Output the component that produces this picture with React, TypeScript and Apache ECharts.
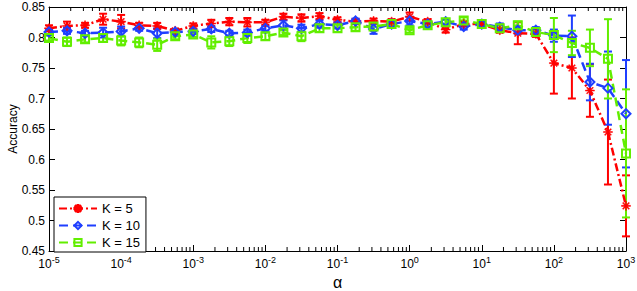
import React, { useEffect, useRef } from 'react';
import * as echarts from 'echarts';

const alphas = [
  1e-5, 1.778e-5, 3.162e-5, 5.623e-5,
  1e-4, 1.778e-4, 3.162e-4, 5.623e-4,
  1e-3, 1.778e-3, 3.162e-3, 5.623e-3,
  1e-2, 1.778e-2, 3.162e-2, 5.623e-2,
  0.1, 0.1778, 0.3162, 0.5623,
  1, 1.778, 3.162, 5.623,
  10, 17.78, 31.62, 56.23,
  100, 177.8, 316.2, 562.3,
  1000,
];

const k5Mean = [0.815, 0.819, 0.820, 0.830, 0.826, 0.820, 0.819, 0.811, 0.819, 0.823, 0.826, 0.825, 0.825, 0.834, 0.832, 0.835, 0.829, 0.826, 0.827, 0.826, 0.834, 0.826, 0.813, 0.822, 0.822, 0.812, 0.807, 0.806, 0.758, 0.750, 0.713, 0.645, 0.524];
const k5Err = [0.005, 0.007, 0.004, 0.009, 0.011, 0.004, 0.005, 0.003, 0.004, 0.006, 0.006, 0.007, 0.004, 0.005, 0.006, 0.005, 0.004, 0.004, 0.004, 0.004, 0.007, 0.004, 0.005, 0.004, 0.004, 0.004, 0.018, 0.005, 0.050, 0.050, 0.043, 0.086, 0.050];

const k10Mean = [0.809, 0.811, 0.807, 0.808, 0.810, 0.815, 0.807, 0.809, 0.810, 0.814, 0.807, 0.808, 0.815, 0.820, 0.815, 0.822, 0.820, 0.827, 0.814, 0.822, 0.827, 0.822, 0.826, 0.818, 0.822, 0.817, 0.812, 0.812, 0.803, 0.802, 0.727, 0.717, 0.675];
const k10Err = [0.004, 0.005, 0.004, 0.008, 0.008, 0.004, 0.008, 0.004, 0.004, 0.005, 0.004, 0.005, 0.004, 0.008, 0.006, 0.006, 0.005, 0.004, 0.008, 0.004, 0.007, 0.005, 0.004, 0.005, 0.004, 0.006, 0.006, 0.005, 0.010, 0.034, 0.030, 0.060, 0.088];

const k15Mean = [0.799, 0.793, 0.797, 0.799, 0.795, 0.792, 0.788, 0.802, 0.805, 0.792, 0.794, 0.799, 0.802, 0.808, 0.802, 0.815, 0.815, 0.817, 0.818, 0.822, 0.812, 0.820, 0.825, 0.828, 0.822, 0.815, 0.820, 0.809, 0.804, 0.791, 0.783, 0.765, 0.610];
const k15Err = [0.004, 0.007, 0.005, 0.006, 0.008, 0.008, 0.010, 0.005, 0.004, 0.010, 0.008, 0.008, 0.006, 0.004, 0.008, 0.006, 0.006, 0.006, 0.006, 0.004, 0.004, 0.004, 0.004, 0.005, 0.004, 0.005, 0.006, 0.005, 0.028, 0.020, 0.030, 0.065, 0.105];

const seriesNames = ['K = 5', 'K = 10', 'K = 15'];
const X_MIN = 1e-5;
const X_MAX = 1e3;
const Y_MIN = 0.45;
const Y_MAX = 0.85;
const Y_STEP = 0.05;

const RED = '#ff0000';
const BLUE = '#1f3fff';
const GREEN = '#62ee00';
const FONT = 'Liberation Sans, Arial, Helvetica, sans-serif';

const minorTickValues: number[] = [];
for (let d = -5; d < 3; d++) {
  for (let m = 2; m <= 9; m++) minorTickValues.push(m * Math.pow(10, d));
}

const STAR_PATH =
  'path://M-0.7,-6 L0.7,-6 L0.7,6 L-0.7,6 Z M-6,-0.7 L6,-0.7 L6,0.7 L-6,0.7 Z M-4.7,-3.7 L-3.7,-4.7 L4.7,3.7 L3.7,4.7 Z M3.7,-4.7 L4.7,-3.7 L-3.7,4.7 L-4.7,3.7 Z';

function errorSeries(name: string, means: number[], errs: number[], color: string) {
  return {
    type: 'custom',
    name,
    silent: true,
    coordinateSystem: 'cartesian2d',
    encode: { x: 0, y: [1, 2] },
    data: alphas.map((a, i) => [a, means[i] - errs[i], means[i] + errs[i]]),
    renderItem: (params: any, api: any) => {
      const x = api.value(0);
      const lo = api.coord([x, api.value(1)]);
      const hi = api.coord([x, api.value(2)]);
      const w = 4;
      const style = { stroke: color, lineWidth: 2, fill: 'none' };
      return {
        type: 'group',
        children: [
          { type: 'line', shape: { x1: lo[0], y1: lo[1], x2: hi[0], y2: hi[1] }, style },
          { type: 'line', shape: { x1: lo[0] - w, y1: lo[1], x2: lo[0] + w, y2: lo[1] }, style },
          { type: 'line', shape: { x1: hi[0] - w, y1: hi[1], x2: hi[0] + w, y2: hi[1] }, style },
        ],
      };
    },
  };
}

function lineSeries(name: string, means: number[], color: string, dash: number[], symbol: string, size: number, fill: string, bw: number) {
  return {
    type: 'line',
    name,
    data: alphas.map((a, i) => [a, means[i]]),
    symbol,
    symbolSize: size,
    showAllSymbol: true,
    lineStyle: { color, width: 2.5, type: dash },
    itemStyle: { color: fill, borderColor: color, borderWidth: bw },
    emphasis: { disabled: true },
  };
}

export default function App() {
  const ref = useRef<HTMLDivElement>(null);
  useEffect(() => {
    const chart = echarts.init(ref.current!, null, { renderer: 'svg' });
    const xLabel = (v: number) => {
      const e = Math.round(Math.log10(v));
      return '{b|10}{s|' + String(e) + '}';
    };
    const option: any = {
      animation: false,
      backgroundColor: '#ffffff',
      textStyle: { fontFamily: FONT },
      grid: { left: 49, right: 11, top: 7, bottom: 40, containLabel: false, outerBoundsMode: 'none' },
      legend: {
        data: seriesNames,
        orient: 'vertical',
        left: 54,
        top: 197,
        itemWidth: 38,
        itemHeight: 9,
        itemGap: 2,
        padding: [4, 6, 2, 4],
        backgroundColor: '#ffffff',
        borderColor: '#000000',
        borderWidth: 1,
        textStyle: { fontSize: 13, color: '#000', fontFamily: FONT, lineHeight: 15 },
      },
      xAxis: [
        {
          type: 'log',
          logBase: 10,
          min: X_MIN,
          max: X_MAX,
          name: 'α',
          nameLocation: 'middle',
          nameGap: 20,
          nameTextStyle: { fontSize: 16, color: '#000', fontFamily: FONT },
          axisLine: { lineStyle: { color: '#000', width: 1 } },
          axisTick: { inside: true, length: 6, lineStyle: { color: '#000' } },
          splitLine: { show: false },
          axisLabel: {
            color: '#000',
            margin: 4,
            formatter: xLabel,
            rich: {
              b: { fontSize: 12, color: '#000', fontFamily: FONT, padding: [3, 0, 0, 0] },
              s: { fontSize: 9, color: '#000', fontFamily: FONT, verticalAlign: 'top' },
            },
          },
        },
        {
          type: 'log',
          logBase: 10,
          min: X_MIN,
          max: X_MAX,
          position: 'top',
          axisLine: { lineStyle: { color: '#000', width: 1 } },
          axisTick: { inside: true, length: 6, lineStyle: { color: '#000' } },
          axisLabel: { show: false },
          splitLine: { show: false },
        },
      ],
      yAxis: [
        {
          type: 'value',
          min: Y_MIN,
          max: Y_MAX,
          interval: Y_STEP,
          name: 'Accuracy',
          nameLocation: 'middle',
          nameGap: 30,
          nameMoveOverlap: false,
          nameTextStyle: { fontSize: 12, color: '#000', fontFamily: FONT },
          axisLine: { show: true, lineStyle: { color: '#000', width: 1 } },
          axisTick: { show: true, inside: true, length: 6, lineStyle: { color: '#000' } },
          splitLine: { show: false },
          axisLabel: {
            color: '#000',
            fontSize: 12,
            margin: 4,
            formatter: (v: number) => String(parseFloat(v.toFixed(2))),
          },
        },
        {
          type: 'value',
          min: Y_MIN,
          max: Y_MAX,
          interval: Y_STEP,
          position: 'right',
          axisLine: { show: true, lineStyle: { color: '#000', width: 1 } },
          axisTick: { show: true, inside: true, length: 6, lineStyle: { color: '#000' } },
          axisLabel: { show: false },
          splitLine: { show: false },
        },
      ],
      series: [
        {
          type: 'custom',
          name: 'minorTicks',
          silent: true,
          coordinateSystem: 'cartesian2d',
          encode: { x: 0 },
          data: minorTickValues.map((v) => [v]),
          renderItem: (params: any, api: any) => {
            const v = api.value(0);
            const b = api.coord([v, Y_MIN]);
            const t = api.coord([v, Y_MAX]);
            const style = { stroke: '#000', lineWidth: 1 };
            return {
              type: 'group',
              children: [
                { type: 'line', shape: { x1: b[0], y1: b[1], x2: b[0], y2: b[1] - 4 }, style },
                { type: 'line', shape: { x1: t[0], y1: t[1], x2: t[0], y2: t[1] + 4 }, style },
              ],
            };
          },
        },
        errorSeries('err5', k5Mean, k5Err, RED),
        lineSeries(seriesNames[0], k5Mean, RED, [8, 3, 2, 3], STAR_PATH, 9, RED, 0.5),
        errorSeries('err10', k10Mean, k10Err, BLUE),
        lineSeries(seriesNames[1], k10Mean, BLUE, [9, 5], 'diamond', 9, 'rgba(255,255,255,0)', 2),
        errorSeries('err15', k15Mean, k15Err, GREEN),
        lineSeries(seriesNames[2], k15Mean, GREEN, [9, 5], 'rect', 8, 'rgba(255,255,255,0)', 2),
      ],
    };
    chart.setOption(option);
    return () => chart.dispose();
  }, []);
  return (
    <div
      ref={ref}
      style={{ position: 'fixed', left: 0, top: 0, width: 637, height: 291, background: '#fff' }}
    />
  );
}
